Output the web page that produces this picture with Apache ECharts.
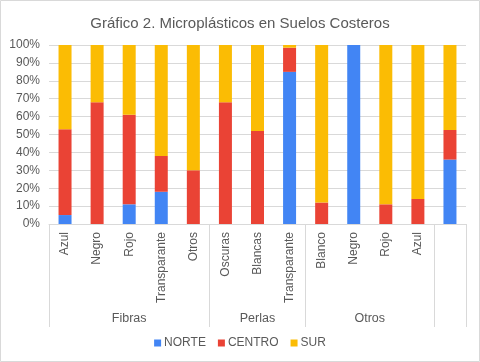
<!DOCTYPE html>
<html><head><meta charset="utf-8">
<script src="https://cdn.jsdelivr.net/npm/echarts@6/dist/echarts.min.js"></script>
<style>html,body{margin:0;padding:0;background:#fff}#c{width:480px;height:362px}</style>
</head><body><div id="c"></div>
<script>
const categories = ['Azul','Negro','Rojo','Transparante','Otros','Oscuras','Blancas','Transparante','Blanco','Negro','Rojo','Azul',''];
const groups = ['Fibras','Perlas','Otros',''];
const groupBounds = [0,5,8,12,13];
const norte  = [5, 0, 11, 18, 0, 0, 0, 85, 0, 100, 0, 0, 36];
const centro = [48, 68, 50, 20, 30, 68, 52, 13.5, 12, 0, 11, 14, 16.5];
const sur    = [47, 32, 39, 62, 70, 32, 48, 1.5, 88, 0, 89, 86, 47.5];
const yTicks = [0,10,20,30,40,50,60,70,80,90,100];

const groupCenters = groups.map((g,i)=> (groupBounds[i]+groupBounds[i+1])/2);
const txt = '#595959';
const font = 'Liberation Sans, Arial, sans-serif';
const chart = echarts.init(document.getElementById('c'));
const mk = (name, data, color) => ({name, type:'bar', stack:'s', data, barWidth:13,
  itemStyle:{color}, xAxisIndex:0, yAxisIndex:0});
chart.setOption({
  animation:false,
  textStyle:{fontFamily:font},
  title:{text:'Gráfico 2. Microplásticos en Suelos Costeros', left:'center', top:11,
    textStyle:{fontSize:15, fontWeight:'normal', color:txt, fontFamily:font}},
  legend:{bottom:8, left:'center', itemWidth:7, itemHeight:7, itemGap:12, icon:'rect',
    textStyle:{fontSize:12, color:txt, fontFamily:font, padding:[0,0,0,-2]}, data:['NORTE','CENTRO','SUR']},
  grid:{left:49, right:14, top:45, bottom:138},
  xAxis:[
    {type:'category', data:categories, boundaryGap:true,
     axisLine:{lineStyle:{color:'#d9d9d9'}}, axisTick:{show:false},
     axisLabel:{rotate:90, color:txt, fontSize:12, margin:8, interval:0, fontFamily:font}},
    {type:'value', min:0, max:13, position:'bottom', splitLine:{show:false},
     axisLine:{show:false},
     axisTick:{show:true, customValues:groupBounds, length:103, lineStyle:{color:'#d9d9d9'}},
     axisLabel:{customValues:groupCenters, margin:88, color:txt, fontSize:12.5, fontFamily:font,
       formatter:(v)=>{const i=groupCenters.indexOf(v);return i>=0?groups[i]:'';}}}
  ],
  yAxis:{type:'value', min:0, max:100, interval:10,
    axisLabel:{formatter:'{value}%', color:txt, fontSize:12, margin:9, fontFamily:font},
    splitLine:{lineStyle:{color:'#d9d9d9'}}, axisLine:{show:false}, axisTick:{show:false}},
  series:[mk('NORTE',norte,'#4285F4'), mk('CENTRO',centro,'#EA4335'), mk('SUR',sur,'#FBBC04')],
  graphic:[{type:'rect', shape:{x:0.5,y:0.5,width:479,height:361}, style:{fill:null, stroke:'#d9d9d9', lineWidth:1}, silent:true}]
});
</script></body></html>
